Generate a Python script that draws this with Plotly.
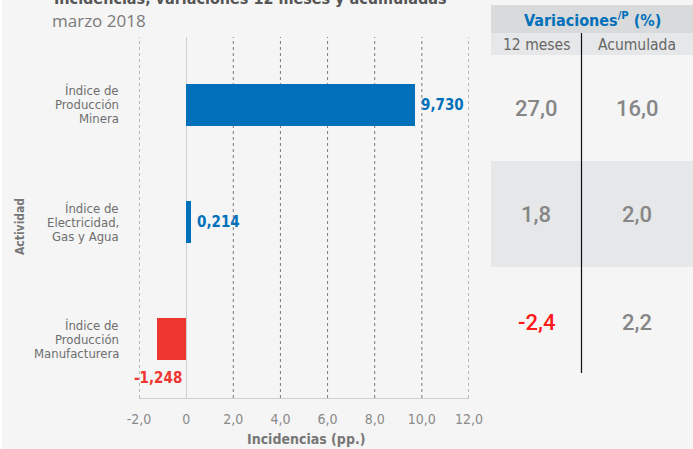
import plotly.graph_objects as go

# ---------------- data ----------------
categories = ["Índice de<br>Producción<br>Minera",
              "Índice de<br>Electricidad,<br>Gas y Agua",
              "Índice de<br>Producción<br>Manufacturera"]
incidencias = [9.730, 0.214, -1.248]
incidencia_labels = ["9,730", "0,214", "-1,248"]
var_12m = ["27,0", "1,8", "-2,4"]
var_acum = ["16,0", "2,0", "2,2"]
x_tickvals = [-2, 0, 2, 4, 6, 8, 10, 12]
x_ticktext = ["-2,0", "0", "2,0", "4,0", "6,0", "8,0", "10,0", "12,0"]
title = "Incidencias, variaciones 12 meses y acumuladas"
subtitle = "marzo 2018"
table_title = "Variaciones<sup>/P</sup> (%)"
table_cols = ["12 meses", "Acumulada"]

# ---------------- layout geometry ----------------
W_FIG, H_FIG = 693, 449
L, R, T, B = 139, 469, 37, 398
PW, PH = R - L, B - T


def px(x):
    return (x - L) / PW


def py(y):
    return (B - y) / PH


BLUE = "#0070ba"
RED = "#ee3530"
COND = "DejaVu Sans Condensed, DejaVu Sans, sans-serif"
GRAY_TXT = "#6e6e6e"

colors = [BLUE if v >= 0 else RED for v in incidencias]
ypos = list(range(len(categories)))

fig = go.Figure()
fig.add_trace(go.Bar(
    y=ypos, x=incidencias, orientation="h", width=0.36,
    marker=dict(color=colors, line=dict(width=0)),
    hoverinfo="skip", showlegend=False,
))

annotations = []
shapes = []

# gridlines (dashed) at every tick except zero
for tv in x_tickvals:
    if tv == 0:
        continue
    shapes.append(dict(type="line", xref="x", yref="paper", x0=tv, x1=tv,
                       y0=0, y1=1, layer="below",
                       line=dict(color="#7a7a7a", width=1, dash="dot")))

# category labels (three lines, tight spacing)
for i, cat in enumerate(categories):
    lines = cat.split("<br>")
    n = len(lines)
    for j, ln in enumerate(lines):
        annotations.append(dict(
            x=px(121), xref="paper", y=i, yref="y",
            xanchor="right", yanchor="middle",
            yshift=-(j - (n - 1) / 2) * 14,
            text=ln, showarrow=False,
            font=dict(family=COND, size=13, color=GRAY_TXT),
        ))

# data labels
for i, (v, lab, c) in enumerate(zip(incidencias, incidencia_labels, colors)):
    if v >= 0:
        annotations.append(dict(
            x=v, xref="x", y=i, yref="y", xanchor="left", yanchor="middle",
            xshift=4, text="<b>" + lab + "</b>", showarrow=False,
            font=dict(family=COND, size=15, color=c),
        ))
    else:
        annotations.append(dict(
            x=0, xref="x", y=i, yref="y", xanchor="right", yanchor="middle",
            xshift=-2, yshift=-39, text="<b>" + lab + "</b>", showarrow=False,
            font=dict(family=COND, size=15, color=c),
        ))

# titles
annotations += [
    dict(x=px(52), y=py(-1), xref="paper", yref="paper", xanchor="left",
         yanchor="middle", text="<b>" + title + "</b>", showarrow=False,
         font=dict(family=COND, size=16, color="#555555")),
    dict(x=px(50), y=py(20), xref="paper", yref="paper", xanchor="left",
         yanchor="middle", text=subtitle, showarrow=False,
         font=dict(family="Open Sans, sans-serif", size=17, color="#7a7a7a")),
    dict(x=px(20), y=py(227), xref="paper", yref="paper", xanchor="center",
         yanchor="middle", text="<b>Actividad</b>", textangle=-90, showarrow=False,
         font=dict(family=COND, size=12, color="#777777")),
    dict(x=px(306), y=py(439), xref="paper", yref="paper", xanchor="center",
         yanchor="middle", text="<b>Incidencias (pp.)</b>", showarrow=False,
         font=dict(family=COND, size=14, color="#777777")),
]

# ---------------- table ----------------
TX0, TX1 = 491, 693
shapes += [
    dict(type="rect", xref="paper", yref="paper", x0=px(TX0), x1=px(TX1),
         y0=py(33), y1=py(5), fillcolor="#d9dadb", line=dict(width=0), layer="below"),
    dict(type="rect", xref="paper", yref="paper", x0=px(TX0), x1=px(TX1),
         y0=py(55), y1=py(33), fillcolor="#e6e7e8", line=dict(width=0), layer="below"),
    dict(type="rect", xref="paper", yref="paper", x0=px(TX0), x1=px(TX1),
         y0=py(267), y1=py(161), fillcolor="#e6e7e8", line=dict(width=0), layer="below"),
    dict(type="line", xref="paper", yref="paper", x0=px(581.5), x1=px(581.5),
         y0=py(373), y1=py(33), line=dict(color="#111111", width=1.2)),
    dict(type="line", xref="paper", yref="paper", x0=px(1), x1=px(1),
         y0=py(449), y1=py(0), line=dict(color="#ffffff", width=2)),
]
annotations.append(dict(
    x=px(592), y=py(19), xref="paper", yref="paper", xanchor="center",
    yanchor="middle", text="<b>" + table_title + "</b>", showarrow=False,
    font=dict(family=COND, size=16, color=BLUE)))
col_x = [536, 637]
for cx, ct in zip(col_x, table_cols):
    annotations.append(dict(
        x=px(cx), y=py(45), xref="paper", yref="paper", xanchor="center",
        yanchor="middle", text=ct, showarrow=False,
        font=dict(family=COND, size=15.5, color="#666666")))
row_y = [108, 215, 322]
for ry, a, b in zip(row_y, var_12m, var_acum):
    for cx, val in zip(col_x, [a, b]):
        col = "#ff1a1a" if val.startswith("-") else "#868686"
        annotations.append(dict(
            x=px(cx), y=py(ry), xref="paper", yref="paper", xanchor="center",
            yanchor="middle", text=val, showarrow=False,
            font=dict(family="Roboto, Liberation Sans, sans-serif", size=22,
                      weight=500, color=col)))

fig.update_layout(
    width=W_FIG, height=H_FIG,
    margin=dict(l=L, r=W_FIG - R, t=T, b=H_FIG - B, pad=0),
    paper_bgcolor="#f5f5f5", plot_bgcolor="#f5f5f5",
    xaxis=dict(range=[-2, 12], tickvals=x_tickvals, ticktext=x_ticktext,
               showgrid=False,
               zeroline=True, zerolinecolor="#cfcfcf", zerolinewidth=1,
               showline=True, linecolor="#cfcfcf", linewidth=1,
               ticks="", ticklabelstandoff=8,
               tickfont=dict(family=COND, size=14, color="#8a8a8a"),
               fixedrange=True),
    yaxis=dict(range=[2.5, -0.58], showticklabels=False, showgrid=False,
               zeroline=False, showline=False, fixedrange=True),
    annotations=annotations, shapes=shapes,
    bargap=0,
)

fig.write_html(
    "out.html",
    config={"displayModeBar": False},
    post_script="document.body.style.margin='0';document.body.style.background='#f5f5f5';",
)
